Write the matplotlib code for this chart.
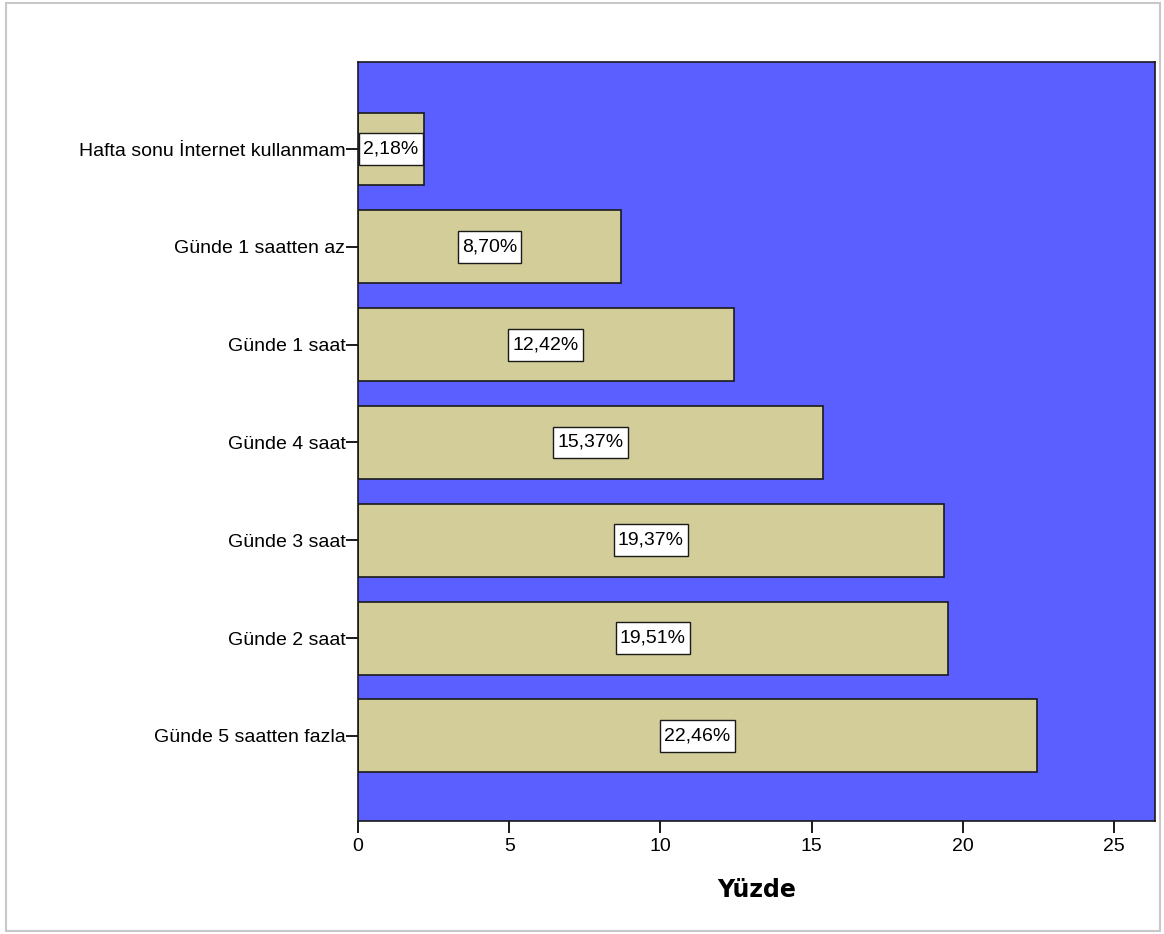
import matplotlib
matplotlib.use("Agg")
import matplotlib.pyplot as plt
from matplotlib.patches import Rectangle
from matplotlib.path import Path

categories = [
    "Hafta sonu İnternet kullanmam",
    "Günde 1 saatten az",
    "Günde 1 saat",
    "Günde 4 saat",
    "Günde 3 saat",
    "Günde 2 saat",
    "Günde 5 saatten fazla",
]
percent = [2.18, 8.70, 12.42, 15.37, 19.37, 19.51, 22.46]
xticks = [0, 5, 10, 15, 20, 25]

plt.rcParams["font.family"] = ["Liberation Sans", "DejaVu Sans"]


def label_box(x0, y0, width, height, mutation_size):
    # plain rectangle, a bit more padding above/below than at the sides
    px, py = 0.22 * mutation_size, 0.38 * mutation_size
    x0, y0, x1, y1 = x0 - px, y0 - py, x0 + width + px, y0 + height + py
    return Path([(x0, y0), (x1, y0), (x1, y1), (x0, y1), (x0, y0)],
                closed=True)


W, H = 1164, 934
fig = plt.figure(figsize=(W / 100, H / 100), dpi=100)
ax = fig.add_axes([358 / W, 1 - 821 / H, (1155 - 358) / W, (821 - 62) / H])

# light grey frame round the whole chart
fig.patches.append(Rectangle((6 / W, 3 / H), (1160 - 6) / W, (931 - 3) / H,
                             transform=fig.transFigure, fill=False,
                             edgecolor="#c8c8c8", linewidth=1.5))

ax.set_facecolor("#5b5fff")
ypos = list(range(len(categories)))
ax.barh(ypos, percent, height=0.745, color="#d3ce99",
        edgecolor="#1a1a1a", linewidth=1.2, zorder=2)

for y, v in zip(ypos, percent):
    ax.text(v / 2, y, f"{v:.2f}%".replace(".", ","), ha="center", va="center",
            fontsize=14, zorder=3,
            bbox=dict(boxstyle=label_box, facecolor="white",
                      edgecolor="#1a1a1a", linewidth=1))

ax.set_yticks(ypos)
ax.set_yticklabels(categories, fontsize=14)
ax.set_ylim(6.87, -0.89)
ax.set_xlim(0, 26.36)
ax.set_xticks(xticks)
ax.set_xticklabels([str(t) for t in xticks], fontsize=14)
ax.tick_params(axis="both", length=8.5, width=1.4, color="#1a1a1a")
ax.tick_params(axis="x", pad=4)
ax.tick_params(axis="y", pad=0.5)
for s in ax.spines.values():
    s.set_color("#1a1a1a")
    s.set_linewidth(1.2)

ax.set_xlabel("Yüzde", fontsize=17, fontweight="bold", family="DejaVu Sans",
              labelpad=16)

fig.savefig("out.png", dpi=100)
